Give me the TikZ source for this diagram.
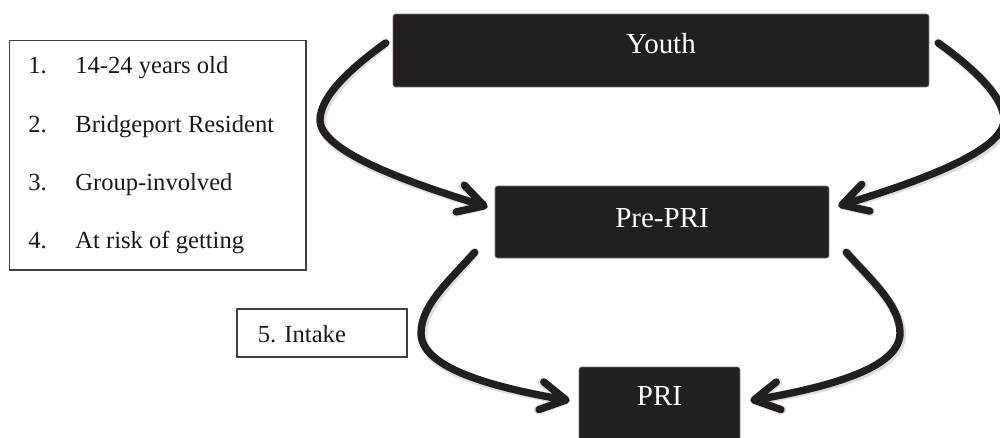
\documentclass[tikz,border=0pt]{standalone}
\usepackage{fontspec}
\setmainfont{Liberation Serif}
\usetikzlibrary{arrows.meta,calc}
\definecolor{boxblack}{HTML}{231F20}
\begin{document}
\begin{tikzpicture}[x=0.02cm,y=-0.02cm,
  darkbox/.style={fill=boxblack, draw=black!55, line width=0.4pt, rounded corners=1.5pt, inner sep=0pt},
  boxlabel/.style={text=white, font=\fontsize{16.5}{19}\selectfont, anchor=base, inner sep=0pt},
  listtext/.style={font=\fontsize{14}{17}\selectfont, anchor=base west, inner sep=0pt, text=black!90},
  framebox/.style={draw=black!75, line width=0.6pt, inner sep=0pt, fill=white},
  flowshadow/.style={draw=black, draw opacity=0.13, line width=5.2pt, line cap=round,
     -{Straight Barb[length=0.5cm,width=0.56cm,round]}},
  flow/.style={line width=4.2pt, draw=boxblack, line cap=round,
     -{Straight Barb[length=0.5cm,width=0.56cm,round]}},
]
\useasboundingbox (0,0) rectangle (1000,437);
\clip (0,0) rectangle (1000,437);

% criteria box
\node[framebox, minimum width=5.94cm, minimum height=4.6cm] (criteria) at (157.5,155) {};
\node[listtext] (n1) at (28,73) {1.};
\node[listtext] (t1) at (75,73) {14-24 years old};
\node[listtext] (n2) at (28,132) {2.};
\node[listtext] (t2) at (75,132) {Bridgeport Resident};
\node[listtext] (n3) at (28,190) {3.};
\node[listtext] (t3) at (75,190) {Group-involved};
\node[listtext] (n4) at (28,248) {4.};
\node[listtext] (t4) at (75,248) {At risk of getting};

% intake box
\node[framebox, minimum width=3.4cm, minimum height=0.96cm] (intake) at (322,333) {};
\node[listtext] (intaketext) at (257.5,342) {5. Intake};

% dark boxes
\node[darkbox, minimum width=10.72cm, minimum height=1.46cm] (youth) at (661,50.5) {};
\node[boxlabel] (youthlabel) at (661,53) {Youth};
\node[darkbox, minimum width=6.68cm, minimum height=1.44cm] (prepri) at (662,222) {};
\node[boxlabel] (preprilabel) at (662,227) {Pre-PRI};
\node[darkbox, minimum width=3.22cm, minimum height=1.56cm] (pri) at (659.5,406) {};
\node[boxlabel] (prilabel) at (659.5,405) {PRI};

% arrows
\foreach \sty/\dx/\dy in {flowshadow/1.5/2.2, flow/0/0}{
\begin{scope}[shift={(\dx,\dy)}]
\draw[\sty] ($(youth.west)+(-7,-7.5)$) .. controls (355,65) and (320,95) .. (320,120)
   .. controls (320,150) and (400,180) .. ($(prepri.west)+(-7,-15)$);
\draw[\sty] ($(youth.east)+(9,-7.5)$) .. controls (969,65) and (1004,95) .. (1004,120)
   .. controls (1004,150) and (924,180) .. ($(prepri.east)+(9,-16)$);
\draw[\sty] ($(prepri.south west)+(-20,-6)$) .. controls (450,280) and (421,305) .. (421,333)
   .. controls (421,365) and (480,385) .. ($(pri.north west)+(-9,34)$);
\draw[\sty] ($(prepri.south east)+(17,-6)$) .. controls (871,280) and (900,305) .. (900,333)
   .. controls (900,365) and (841,385) .. ($(pri.north east)+(10,34)$);
\end{scope}
}
\end{tikzpicture}
\end{document}
